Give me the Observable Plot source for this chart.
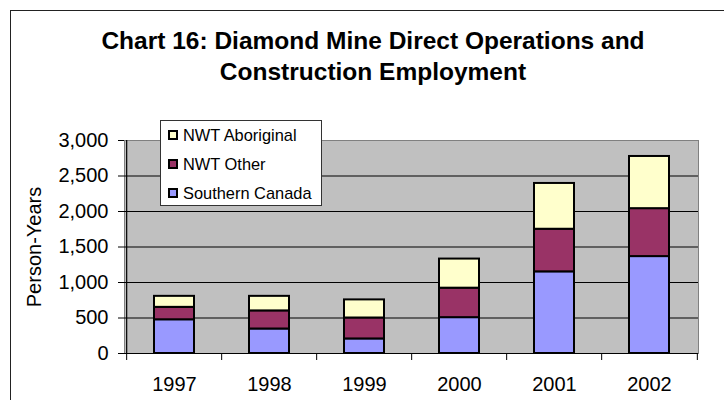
<!DOCTYPE html>
<html><head><meta charset="utf-8">
<script src="https://cdn.jsdelivr.net/npm/d3@7"></script>
<script src="https://cdn.jsdelivr.net/npm/@observablehq/plot@0.6"></script>
<style>
body{margin:0;background:#fff;font-family:"Liberation Sans",Arial,sans-serif;color:#000;}
#wrap{position:relative;width:724px;height:400px;overflow:hidden;background:#fff;}
#border{position:absolute;left:10px;top:10px;width:800px;height:500px;border:1.5px solid #222;box-sizing:border-box;}
.title{position:absolute;left:0;width:746px;text-align:center;font-weight:bold;font-size:24.5px;line-height:31px;white-space:nowrap;}
#chart{position:absolute;left:0;top:100px;}
#legend{position:absolute;left:160px;top:120px;width:162px;height:86px;border:1px solid #333;background:#fff;box-sizing:border-box;z-index:2;}
.item{position:absolute;left:7px;height:20px;line-height:20px;display:flex;align-items:center;font-size:16.4px;white-space:nowrap;}
.sw{width:10px;height:10px;border:2px solid #000;box-sizing:border-box;margin-right:5px;}
</style>
</head><body>
<div id="wrap">
  <div id="border"></div>
  <div class="title" style="top:25px">Chart 16: Diamond Mine Direct Operations and</div>
  <div class="title" style="top:56px">Construction Employment</div>
  <div id="chart"></div>
  <div id="legend"></div>
</div>
<script>
const years = ["1997", "1998", "1999", "2000", "2001", "2002"];
const series = ["Southern Canada", "NWT Other", "NWT Aboriginal"];
const southernCanada = [475, 345, 205, 505, 1150, 1365];
const nwtOther = [175, 255, 295, 415, 600, 675];
const nwtAboriginal = [155, 205, 255, 410, 645, 735];
const yTicks = [0, 500, 1000, 1500, 2000, 2500, 3000];
const colors = ["#9999FF", "#993366", "#FFFFCC"];
const yLabel = "Person-Years";

const seriesValues = [southernCanada, nwtOther, nwtAboriginal];
const rows = [];
series.forEach((s, si) => years.forEach((y, i) => rows.push({year: y, series: s, value: seriesValues[si][i]})));

const W = 724, mL = 124, mR = 26;
const step = (W - mL - mR) / years.length;

const chart = Plot.plot({
  width: W, height: 300,
  marginLeft: mL, marginRight: mR, marginTop: 40, marginBottom: 47,
  style: {fontFamily: "Liberation Sans, Arial, sans-serif", fontSize: "20px", color: "#000", background: "transparent"},
  x: {domain: years, paddingInner: 0.58, paddingOuter: 0.29},
  y: {domain: [0, 3000]},
  color: {domain: series, range: colors},
  marks: [
    Plot.frame({fill: "#C0C0C0", stroke: "#808080"}),
    Plot.ruleY(yTicks.filter(d => d > 0 && d < 3000), {stroke: "#000", strokeWidth: 1}),
    Plot.barY(rows, {x: "year", y: "value", fill: "series", stroke: "#000", strokeWidth: 2}),
    Plot.ruleY([0], {stroke: "#000", strokeWidth: 1.2}),
    Plot.ruleX([years[0]], {dx: -step / 2, stroke: "#000", strokeWidth: 1.2}),
    Plot.axisY({ticks: yTicks, tickFormat: d3.format(","), tickSize: 6, tickPadding: 10, label: null, fontSize: 20}),
    Plot.axisX({tickSize: 7, dx: -step / 2, tickFormat: () => "", label: null}),
    Plot.axisX([years[years.length - 1]], {tickSize: 7, dx: step / 2, tickFormat: () => "", label: null}),
    Plot.axisX({tickSize: 0, tickPadding: 23, fontSize: 20, label: null}),
    Plot.text([yLabel], {text: d => d, frameAnchor: "left", textAnchor: "middle", lineAnchor: "middle", rotate: -90, dx: -90, fontSize: 20})
  ]
});
document.getElementById("chart").appendChild(chart);

const legend = document.getElementById("legend");
series.slice().reverse().forEach((s, i) => {
  const idx = series.indexOf(s);
  const it = document.createElement("div");
  it.className = "item";
  it.style.top = (4 + 29 * i) + "px";
  const sw = document.createElement("div");
  sw.className = "sw";
  sw.style.background = colors[idx];
  it.appendChild(sw);
  it.appendChild(document.createTextNode(s));
  legend.appendChild(it);
});
</script>
</body></html>
